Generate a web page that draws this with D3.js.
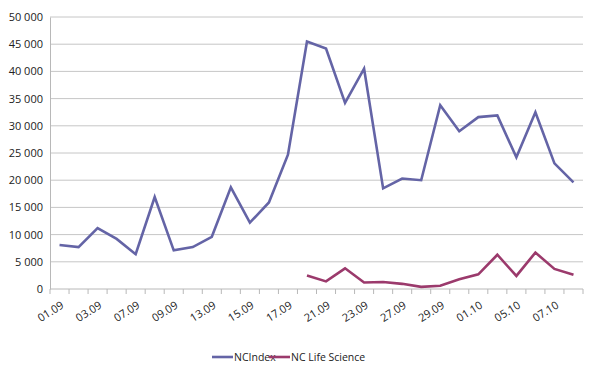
<!DOCTYPE html>
<html><head><meta charset="utf-8">
<script src="https://cdn.jsdelivr.net/npm/d3@7"></script>
<style>
body{margin:0;background:#fff;}
text{font-family:"Open Sans","Liberation Sans",sans-serif;}
</style></head>
<body><svg id="c" width="600" height="384"></svg>
<script>
const categories = ["01.09","02.09","03.09","04.09","07.09","08.09","09.09","10.09","13.09","14.09","15.09","16.09","17.09","18.09","21.09","22.09","23.09","24.09","27.09","28.09","29.09","30.09","01.10","02.10","05.10","06.10","07.10","08.10"];
const ncIndex = [8100,7700,11200,9200,6400,16900,7100,7700,9600,18700,12200,15900,24700,45500,44200,34200,40500,18500,20300,20000,33800,29000,31600,31900,24200,32500,23100,19600];
const ncLifeScience = [null,null,null,null,null,null,null,null,null,null,null,null,null,2500,1400,3800,1200,1300,950,400,600,1800,2700,6300,2400,6700,3700,2600];
const yTicks = [0,5000,10000,15000,20000,25000,30000,35000,40000,45000,50000];
const seriesNames = ["NCIndex","NC Life Science"];
const colors = ["#6464a6","#9b3a6c"];

(function(){
const svg = d3.select("#c");
const mL = 50, mR = 583, mT = 17, mB = 289;
const x = d3.scaleBand().domain(categories).range([mL, mR]);
const y = d3.scaleLinear().domain([0,50000]).range([mB, mT]);
const fmt = v => d3.format(",")(v).replace(/,/g, " ");

svg.append("g").selectAll("line").data(yTicks.filter(d=>d>0)).join("line")
  .attr("x1", mL).attr("x2", mR)
  .attr("y1", d=>y(d)).attr("y2", d=>y(d))
  .attr("stroke", "#c6c6c6").attr("stroke-width", 1);

const ya = svg.append("g").attr("transform", `translate(${mL},0)`)
  .call(d3.axisLeft(y).tickValues(yTicks).tickFormat(fmt).tickSize(0).tickPadding(7));
ya.select(".domain").attr("stroke", "#b8b8b8");
ya.selectAll("text").attr("font-size", 11).attr("fill", "#222");

const xa = svg.append("g").attr("transform", `translate(0,${mB})`);
xa.append("line").attr("x1", mL).attr("x2", mR).attr("stroke", "#b8b8b8");
const bounds = categories.map(c => x(c)).concat([mR]);
xa.selectAll("line.t").data(bounds).join("line").attr("class","t")
  .attr("x1", d=>d).attr("x2", d=>d).attr("y1", 0).attr("y2", 5).attr("stroke", "#b8b8b8");
xa.selectAll("text").data(categories.filter((d,i)=>i%2===0)).join("text")
  .attr("transform", d=>`translate(${x(d)+x.bandwidth()/2+3},${15}) rotate(-32)`)
  .attr("text-anchor", "end").attr("dy", "0.35em")
  .attr("font-size", 11).attr("fill", "#222").text(d=>d);

const line = d3.line().defined(d=>d.v!=null)
  .x(d=>x(d.c)+x.bandwidth()/2).y(d=>y(d.v));
[ncIndex, ncLifeScience].forEach((s,i)=>{
  svg.append("path").datum(categories.map((c,j)=>({c, v:s[j]})))
    .attr("d", line).attr("fill","none").attr("stroke", colors[i])
    .attr("stroke-width", 2.6).attr("stroke-linejoin","miter");
});

const lg = svg.append("g");
const lx = [212, 269];
seriesNames.forEach((n,i)=>{
  lg.append("line").attr("x1", lx[i]).attr("x2", lx[i]+21).attr("y1", 357).attr("y2", 357)
    .attr("stroke", colors[i]).attr("stroke-width", 2.6);
  lg.append("text").attr("x", lx[i]+22).attr("y", 357).attr("dy","0.35em")
    .attr("font-size", 10.5).attr("fill","#222").text(n);
});
})();
</script></body></html>
